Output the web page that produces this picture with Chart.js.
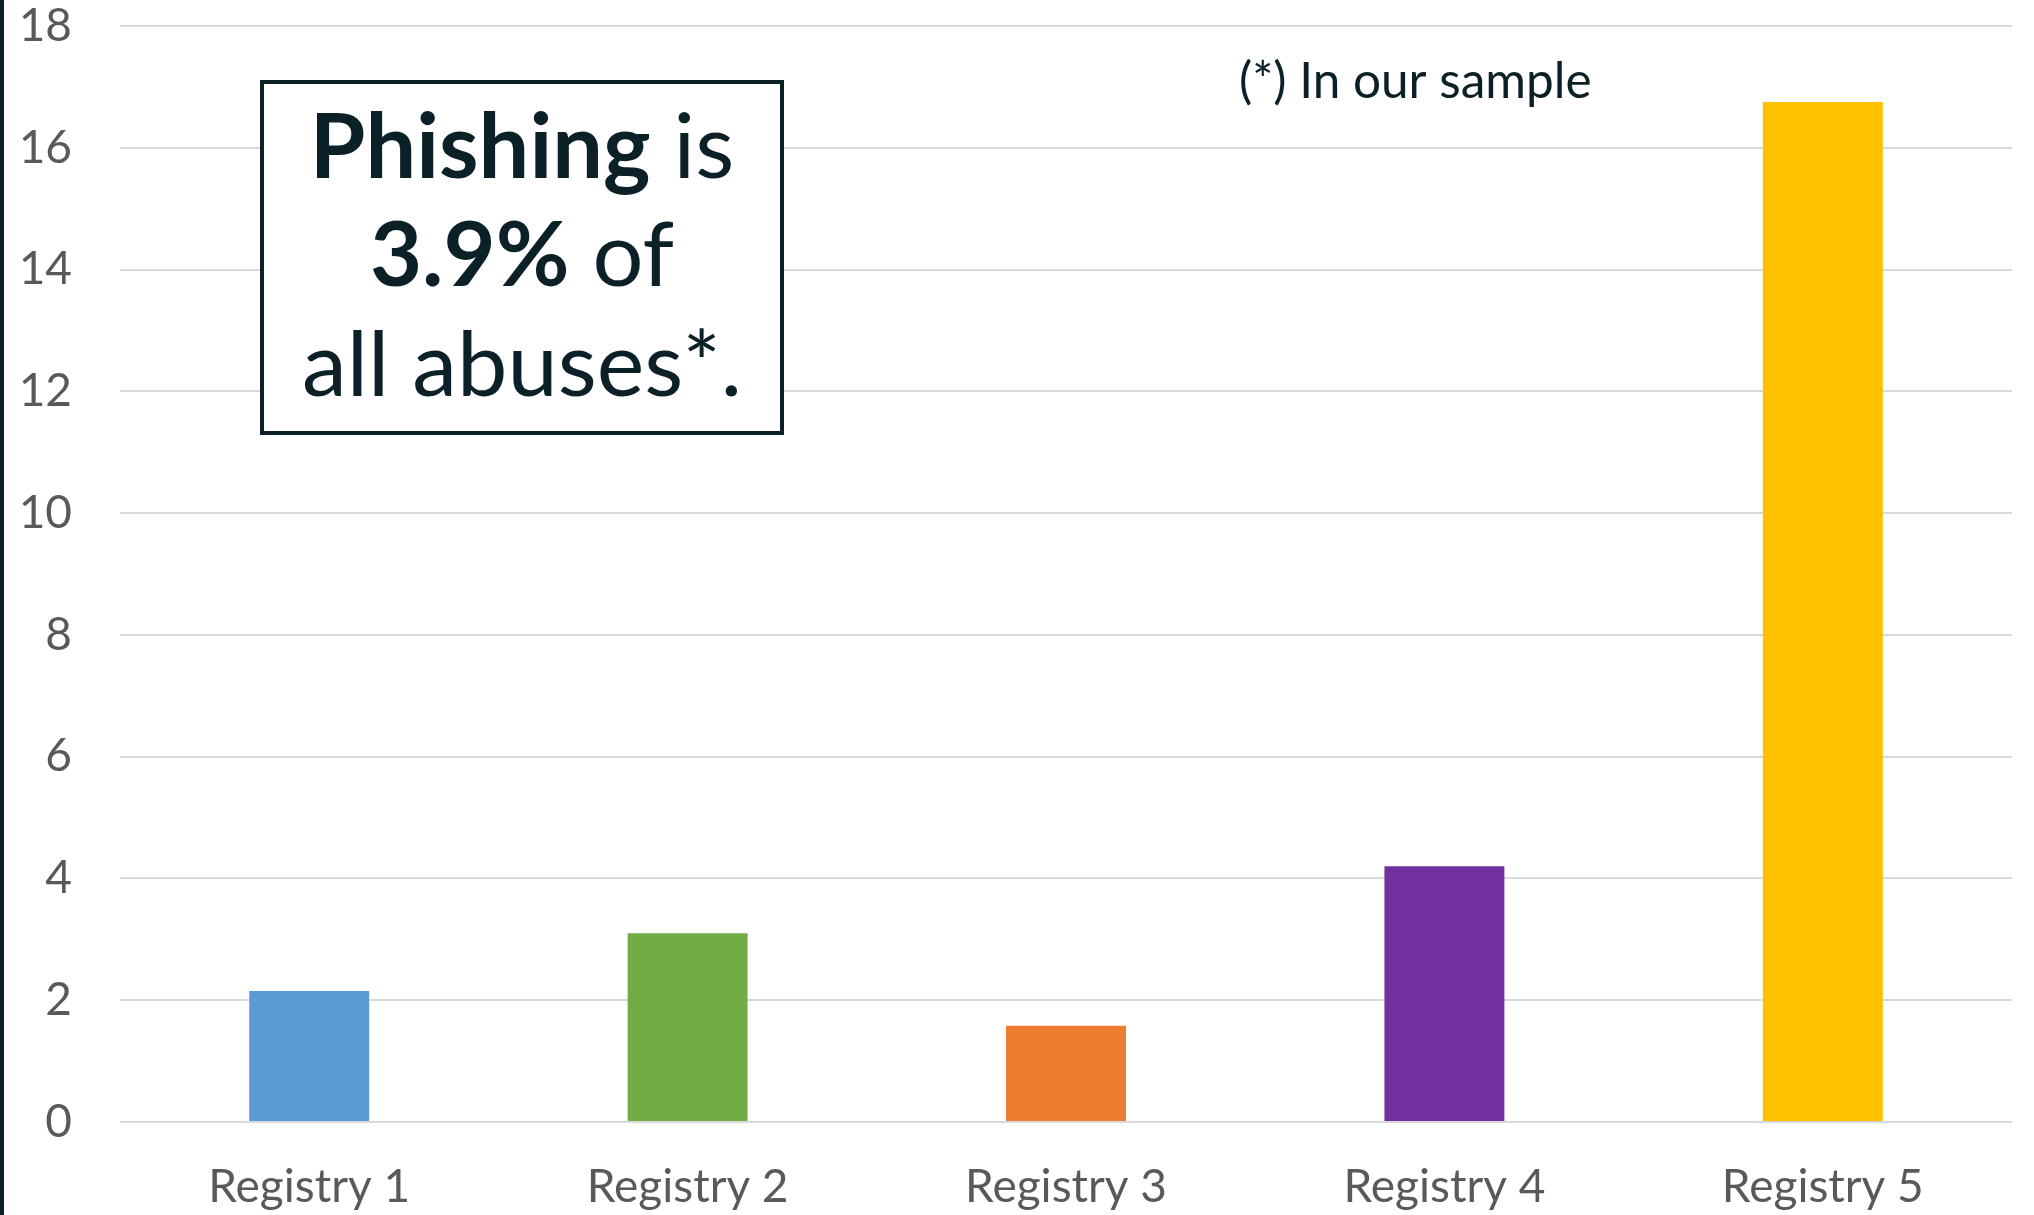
<!DOCTYPE html>
<html>
<head>
<meta charset="utf-8">
<script src="https://cdn.jsdelivr.net/npm/chart.js@4/dist/chart.umd.min.js"></script>
<style>
  html, body { margin: 0; padding: 0; background: #fff; }
  #wrap { width: 2034px; height: 1215px; position: relative; }
</style>
</head>
<body>
<div id="wrap"><canvas id="AbuseChart"></canvas></div>
<script>
var Registries = ['Registry 1', 'Registry 2', 'Registry 3', 'Registry 4', 'Registry 5'];
var PhishingValues = [2.15, 3.10, 1.58, 4.20, 16.75];
var BarColors = ['#5b9bd5', '#70ad47', '#ed7d31', '#7030a0', '#ffc000'];
var YTicks = [0, 2, 4, 6, 8, 10, 12, 14, 16, 18];

var Dark = '#0c2027';

// left border line + the text box and the footnote
var extras = {
  id: 'extras',
  afterDraw: function(chart) {
    var ctx = chart.ctx;
    ctx.save();
    ctx.fillStyle = Dark;
    ctx.fillRect(0, 0, 4, chart.height);

    // box
    ctx.strokeStyle = Dark;
    ctx.lineWidth = 4;
    ctx.fillStyle = '#fff';
    ctx.fillRect(262, 82, 520, 351);
    ctx.strokeRect(262, 82, 520, 351);

    ctx.fillStyle = Dark;
    ctx.textBaseline = 'alphabetic';
    var cx = 522;
    var lines = [
      [['Phishing', 'bold'], [' is', 'normal']],
      [['3.9%', 'bold'], [' of', 'normal']],
      [['all abuses*.', 'normal']]
    ];
    var baselines = [178, 286, 396];
    lines.forEach(function(parts, i) {
      var w = 0;
      parts.forEach(function(p) {
        ctx.font = p[1] + ' 90px Lato';
        w += ctx.measureText(p[0]).width;
      });
      var x = cx - w / 2;
      parts.forEach(function(p) {
        ctx.font = p[1] + ' 90px Lato';
        ctx.textAlign = 'left';
        ctx.fillText(p[0], x, baselines[i]);
        x += ctx.measureText(p[0]).width;
      });
    });

    ctx.font = '49.5px Lato';
    ctx.textAlign = 'left';
    ctx.fillText('(*) In our sample', 1239, 98);
    ctx.restore();
  }
};

var ctx = document.getElementById('AbuseChart');
new Chart(ctx, {
  type: 'bar',
  data: {
    labels: Registries,
    datasets: [{
      data: PhishingValues,
      backgroundColor: BarColors,
      categoryPercentage: 1.0,
      barPercentage: 0.317
    }]
  },
  options: {
    responsive: true,
    maintainAspectRatio: false,
    animation: false,
    layout: { padding: { top: 26, right: 22, left: 0, bottom: 0 } },
    plugins: {
      legend: { display: false },
      tooltip: { enabled: false }
    },
    scales: {
      x: {
        grid: { display: false },
        border: { display: false },
        ticks: {
          color: '#595959',
          font: { family: 'Lato', size: 46 },
          padding: 30,
          maxRotation: 0
        },
        afterFit: function(scale) { scale.height = 93; }
      },
      y: {
        min: 0,
        max: 18,
        afterBuildTicks: function(scale) {
          scale.ticks = YTicks.map(function(v) { return { value: v }; });
        },
        grid: { color: '#d9d9d9', lineWidth: 2, drawTicks: false },
        border: { display: false },
        ticks: {
          color: '#595959',
          font: { family: 'Lato', size: 46 },
          padding: 48
        },
        afterFit: function(scale) {
          scale.width = 120;
          scale.paddingTop = 0;
          scale.paddingBottom = 0;
        }
      }
    }
  },
  plugins: [extras]
});
</script>
</body>
</html>
